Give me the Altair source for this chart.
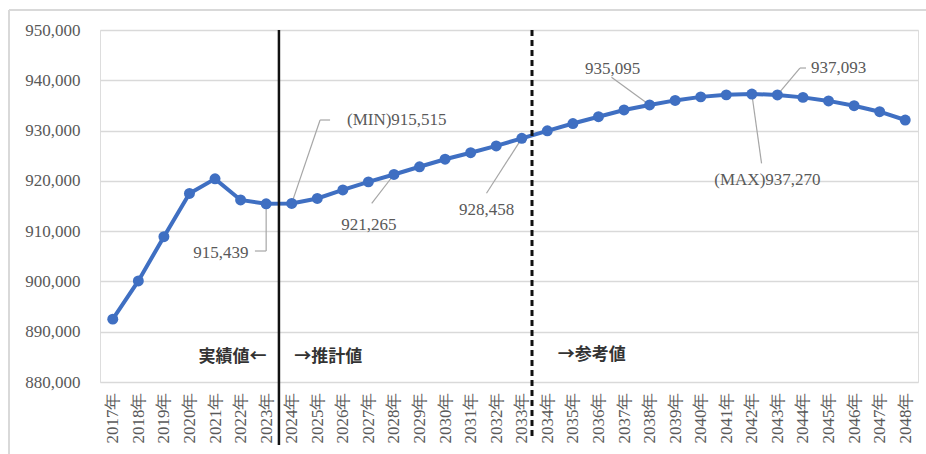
import altair as alt
import pandas as pd

# ---- data ----
years = list(range(2017, 2049))
population = [892500, 900100, 908900, 917500, 920400, 916200, 915439, 915515,
              916500, 918200, 919800, 921265, 922800, 924300, 925600, 926950,
              928458, 929950, 931400, 932750, 934100, 935095, 936000, 936700,
              937100, 937270, 937093, 936600, 935900, 934950, 933750, 932100]

y_ticks = [880000, 890000, 900000, 910000, 920000, 930000, 940000, 950000]

# value labels (text, anchor year, anchor value)
lab_text = ["915,439", "(MIN)915,515", "921,265", "928,458", "935,095", "937,093", "(MAX)937,270"]
lab_x = [2021.23, 2028.11, 2027.02, 2031.62, 2036.55, 2045.39, 2042.61]
lab_y = [905650, 932100, 911220, 914200, 942240, 942440, 920170]

# leader segments
seg_x1 = [2022.56, 2023.0, 2025.50, 2025.11, 2027.13, 2031.62, 2036.51, 2044.12, 2043.88, 2042.0]
seg_y1 = [906050, 906050, 932100, 932100, 915540, 917530, 940590, 942440, 942440, 937270]
seg_x2 = [2023.0, 2023.0, 2025.11, 2024.0, 2028.0, 2033.0, 2038.0, 2043.88, 2043.0, 2042.38]
seg_y2 = [906050, 915439, 932100, 915515, 921265, 928458, 935095, 942440, 937093, 923490]

# period separators and notes
sep_x = [2023.5, 2033.4]
sep_kind = ["solid", "dashed"]
note_text = ["実績値←", "→推計値", "→参考値"]
note_x = [2021.68, 2025.43, 2035.74]
note_y = [885030, 885030, 885370]

df = pd.DataFrame({"year": years, "pop": population})
df_lab = pd.DataFrame({"t": lab_text, "x": lab_x, "y": lab_y})
df_seg = pd.DataFrame({"x1": seg_x1, "y1": seg_y1, "x2": seg_x2, "y2": seg_y2})
df_sep = pd.DataFrame({"x": sep_x, "kind": sep_kind})
df_note = pd.DataFrame({"t": note_text, "x": note_x, "y": note_y})

SERIF = "Liberation Serif"
GRAY = "#595959"
BLUE = "#3F6FC2"

xscale = alt.Scale(domain=[2016.5, 2048.5], nice=False, zero=False)
yscale = alt.Scale(domain=[880000, 950000], nice=False, zero=False)

xaxis = alt.Axis(values=years, labelExpr="datum.value + '年'", title=None)
yaxis = alt.Axis(values=y_ticks, labelExpr="format(datum.value, ',')", title=None)

base = alt.Chart(df)

line = base.mark_line(color=BLUE, strokeWidth=4).encode(
    x=alt.X("year:Q", scale=xscale, axis=xaxis),
    y=alt.Y("pop:Q", scale=yscale, axis=yaxis),
)
pts = base.mark_circle(color=BLUE, size=120, opacity=1).encode(
    x=alt.X("year:Q", scale=xscale, axis=xaxis),
    y=alt.Y("pop:Q", scale=yscale, axis=yaxis),
)

solid = alt.Chart(df_sep[df_sep.kind == "solid"]).mark_rule(
    color="#111111", strokeWidth=2.5).encode(
    x=alt.X("x:Q", scale=xscale, axis=xaxis), y=alt.value(0), y2=alt.value(415))
dashed = alt.Chart(df_sep[df_sep.kind == "dashed"]).mark_rule(
    color="#111111", strokeWidth=3, strokeDash=[6, 4]).encode(
    x=alt.X("x:Q", scale=xscale, axis=xaxis), y=alt.value(0), y2=alt.value(410))

leaders = alt.Chart(df_seg).mark_rule(color="#a6a6a6", strokeWidth=1.2).encode(
    x=alt.X("x1:Q", scale=xscale, axis=xaxis), y=alt.Y("y1:Q", scale=yscale, axis=yaxis),
    x2="x2:Q", y2="y2:Q")

labels = alt.Chart(df_lab).mark_text(font=SERIF, fontSize=17, color=GRAY,
                                     align="center", baseline="middle").encode(
    x=alt.X("x:Q", scale=xscale, axis=xaxis), y=alt.Y("y:Q", scale=yscale, axis=yaxis),
    text="t:N")

notes = alt.Chart(df_note).mark_text(font="Noto Sans CJK JP", fontSize=17,
                                     fontWeight="bold", color="#333333",
                                     align="center", baseline="middle").encode(
    x=alt.X("x:Q", scale=xscale, axis=xaxis), y=alt.Y("y:Q", scale=yscale, axis=yaxis),
    text="t:N")

# outer frame (top and left edges)
frame_top = alt.Chart(df.head(1)).mark_rule(color="#d9d9d9", strokeWidth=2).encode(
    x=alt.value(-91), x2=alt.value(830), y=alt.value(-20))
frame_left = alt.Chart(df.head(1)).mark_rule(color="#d9d9d9", strokeWidth=2).encode(
    x=alt.value(-91), y=alt.value(-20), y2=alt.value(430))

chart = alt.layer(line, leaders, solid, dashed, pts, labels, notes,
                  frame_top, frame_left).properties(
    width=818, height=352,
    autosize=alt.AutoSizeParams(type="none"),
    padding={"left": 100, "top": 30, "right": 8, "bottom": 72},
).configure_view(stroke=None).configure(background="white").configure_axisX(
    labelAngle=270, grid=False, domain=False, ticks=False, labelPadding=10,
    labelFont=SERIF, labelFontSize=17, labelColor=GRAY,
    labelOverlap=False, labelFlush=False,
).configure_axisY(
    grid=True, gridColor="#d9d9d9", gridWidth=1.3, domain=False, ticks=False,
    labelPadding=20, labelFont=SERIF, labelFontSize=17, labelColor=GRAY,
    labelOverlap=False,
)

chart.save("out.html", embed_options={"renderer": "svg", "actions": False})
